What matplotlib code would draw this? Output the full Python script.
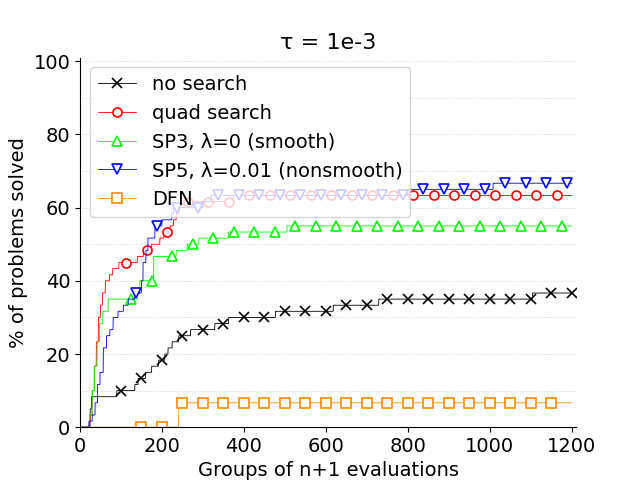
import numpy as np
import matplotlib
matplotlib.use("Agg")
import matplotlib.pyplot as plt
from matplotlib.ticker import MultipleLocator

# ---- data: step breakpoints (x = groups of n+1 evaluations, y = % solved) ----
nosearch_x = [0, 22, 25, 28, 90, 134, 142, 160, 175, 192, 207, 215, 225, 241, 270, 329, 363, 477, 618, 729, 1104]
nosearch_y = [0, 1.67, 5.0, 8.33, 10.0, 11.67, 13.33, 15.0, 16.67, 18.33, 20.0, 21.67, 23.33, 25.0, 26.67, 28.33, 30.0, 31.67, 33.33, 35.0, 36.67]

quad_x = [0, 25, 30, 35, 40, 45, 50, 55, 62, 72, 80, 95, 140, 155, 175, 195, 205, 220, 228, 235, 242, 252, 375]
quad_y = [0, 3.33, 10.0, 16.67, 23.33, 30.0, 33.33, 36.67, 40.0, 41.67, 43.33, 45.0, 46.67, 48.33, 50.0, 51.67, 53.33, 55.0, 56.67, 58.33, 60.0, 61.67, 63.33]

sp3_x = [0, 24, 30, 36, 42, 48, 56, 69, 140, 146, 180, 235, 262, 290, 362, 505]
sp3_y = [0, 3.33, 10.0, 16.67, 23.33, 28.33, 31.67, 35.0, 36.67, 40.0, 46.67, 48.33, 50.0, 51.67, 53.33, 55.0]

sp5_x = [0, 24, 30, 37, 43, 49, 57, 65, 73, 81, 93, 106, 118, 134, 150, 154, 161, 166, 183, 200, 224, 228, 300, 320, 800, 1008]
sp5_y = [0, 1.67, 3.33, 6.67, 11.67, 15.0, 21.67, 25.0, 26.67, 30.0, 31.67, 33.33, 35.0, 36.67, 40.0, 45.0, 48.33, 51.67, 55.0, 56.67, 58.33, 60.0, 61.67, 63.33, 65.0, 66.67]

dfn_x = [0, 241]
dfn_y = [0, 6.67]

labels = ["no search", "quad search", "SP3, λ=0 (smooth)", "SP5, λ=0.01 (nonsmooth)", "DFN"]
xticks = [0, 200, 400, 600, 800, 1000, 1200]
yticks = [0, 20, 40, 60, 80, 100]

grid = np.arange(0, 1200.25, 0.5)

def step(xs, ys):
    xs = np.asarray(xs, float)
    ys = np.asarray(ys, float)
    idx = np.searchsorted(xs, grid, side="right") - 1
    return np.where(idx >= 0, ys[np.clip(idx, 0, None)], 0.0)

series = [
    (nosearch_x, nosearch_y, "k", "x", (200, 100)),
    (quad_x, quad_y, "#ff0000", "o", (225, 100)),
    (sp3_x, sp3_y, "#00ff00", "^", (250, 100)),
    (sp5_x, sp5_y, "#0000ff", "v", (275, 100)),
    (dfn_x, dfn_y, "#ff8c00", "s", slice(300, 2301, 100)),
]

fig, ax = plt.subplots(figsize=(6.4, 4.8), dpi=100)
for (xs, ys, c, m, me), lab in zip(series, labels):
    ax.plot(grid, step(xs, ys), color=c, lw=0.6, marker=m, ms=6.5, mew=1.2,
            mfc="white" if m != "x" else c, mec=c, markevery=me, label=lab)

ax.set_xlim(0, 1210)
ax.set_ylim(0, 101)
ax.set_xticks(xticks)
ax.set_yticks(yticks)
ax.yaxis.set_minor_locator(MultipleLocator(10))
ax.tick_params(which="minor", length=0)
ax.tick_params(labelsize=14)
ax.grid(axis="y", which="both", ls=":", color="0.8", lw=0.6)
ax.spines["top"].set_visible(False)
ax.spines["right"].set_visible(False)
ax.set_xlabel("Groups of n+1 evaluations", fontsize=14)
ax.set_ylabel("% of problems solved", fontsize=14)
ax.set_title("τ = 1e-3", fontsize=16)
ax.legend(loc="upper left", fontsize=14)
fig.savefig("out.png", dpi=100)
